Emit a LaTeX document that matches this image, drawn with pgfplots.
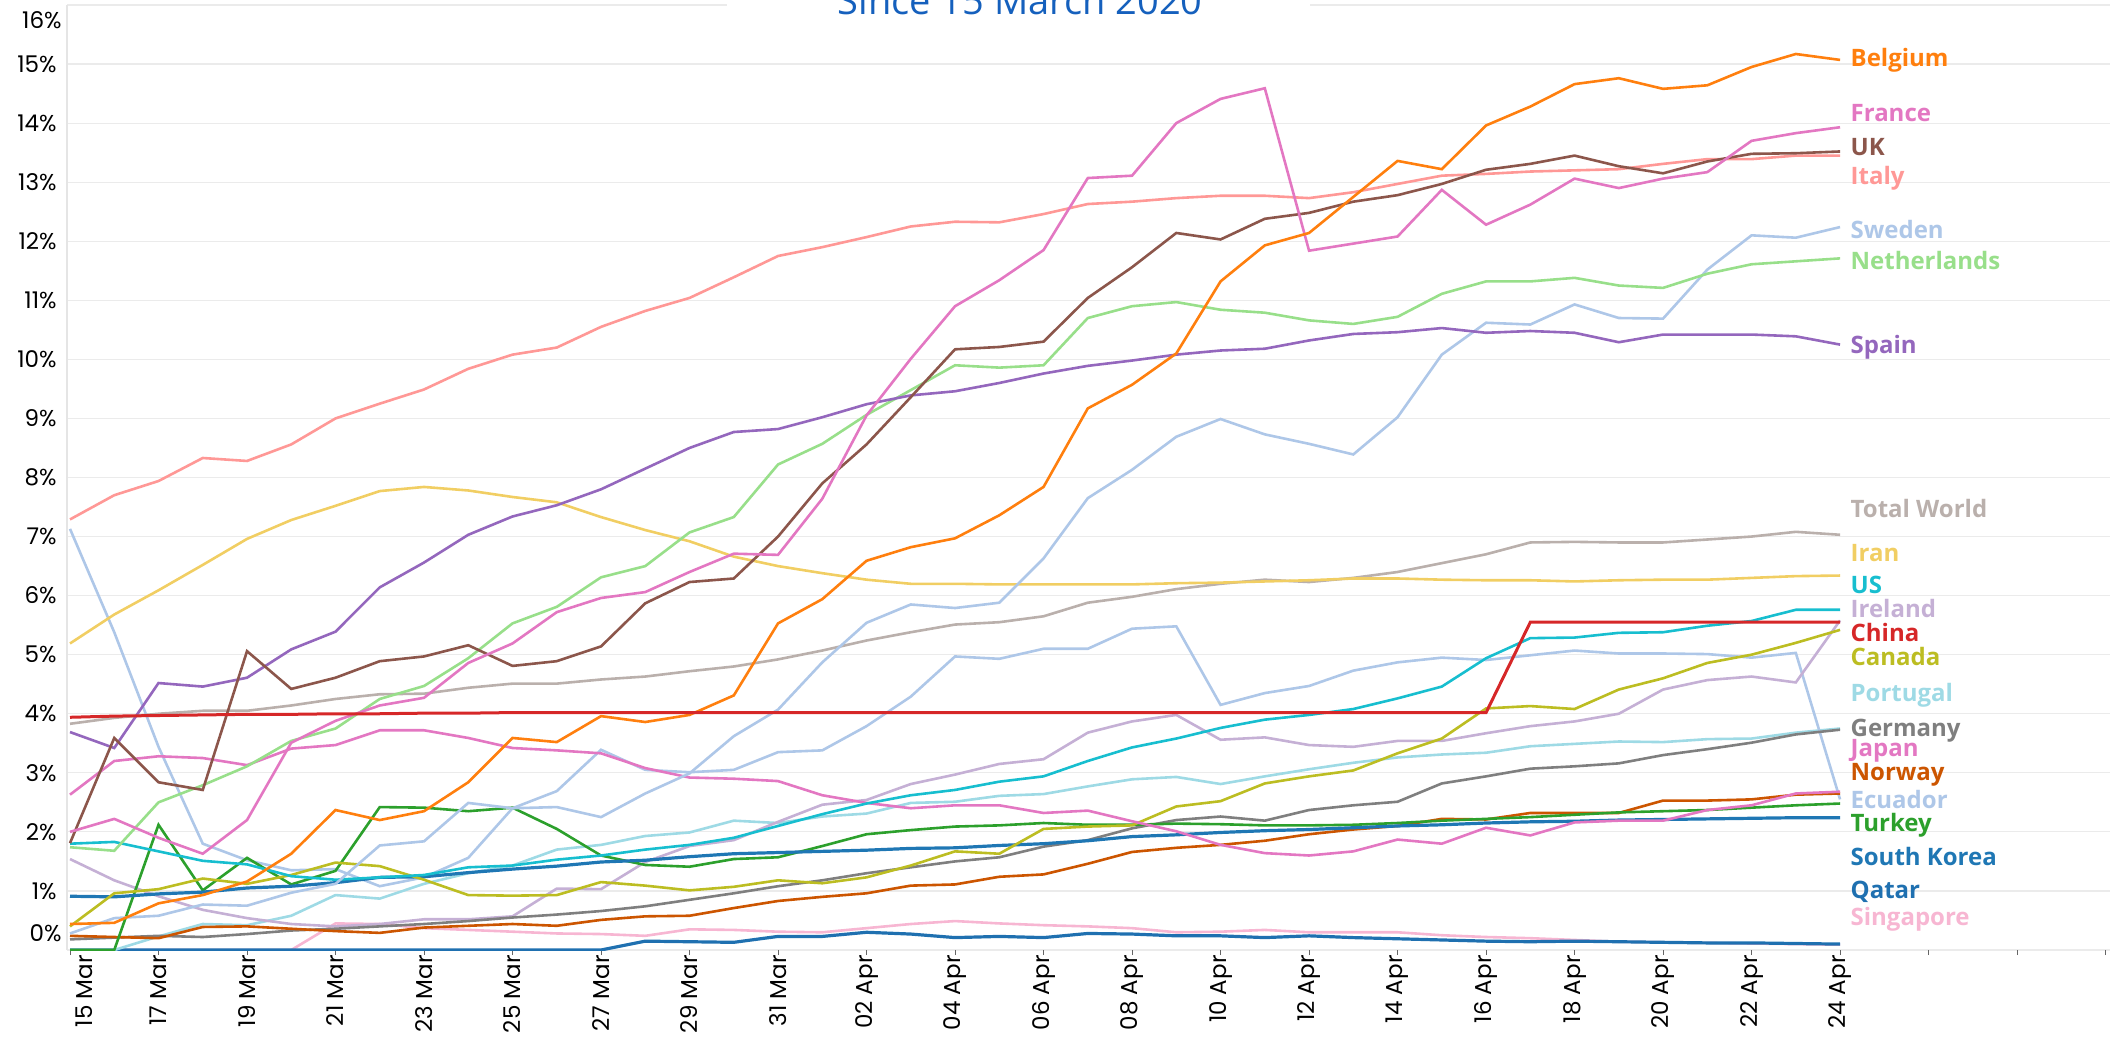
\documentclass[border=0pt]{standalone}
\usepackage{fontspec}
\usepackage{pgfplots}
\usepackage{pgfplotstable}
\pgfplotsset{compat=1.18}
\newfontfamily\tickfont{Poppins}
\newfontfamily\labfont{Open Sans}
\definecolor{cBE}{HTML}{FF7F0E}
\definecolor{cFR}{HTML}{E377C2}
\definecolor{cUK}{HTML}{8C564B}
\definecolor{cIT}{HTML}{FF9896}
\definecolor{cSE}{HTML}{AEC7E8}
\definecolor{cNL}{HTML}{98DF8A}
\definecolor{cES}{HTML}{9467BD}
\definecolor{cWO}{HTML}{BAB0AC}
\definecolor{cIR}{HTML}{F1CE63}
\definecolor{cUS}{HTML}{17BECF}
\definecolor{cIE}{HTML}{C5B0D5}
\definecolor{cCN}{HTML}{D62728}
\definecolor{cCA}{HTML}{BCBD22}
\definecolor{cPT}{HTML}{9EDAE5}
\definecolor{cDE}{HTML}{7F7F7F}
\definecolor{cJP}{HTML}{E377C2}
\definecolor{cNO}{HTML}{CC5500}
\definecolor{cEC}{HTML}{AEC7E8}
\definecolor{cTR}{HTML}{2CA02C}
\definecolor{cKR}{HTML}{1F77B4}
\definecolor{cQA}{HTML}{1F70B0}
\definecolor{cSG}{HTML}{F7B6D2}
\definecolor{titleblue}{HTML}{1560BD}
\tikzset{lab/.style={anchor=west, inner sep=0pt, font=\labfont\bfseries\fontsize{12}{14}\selectfont}}

\pgfplotstableread[row sep=\\]{v\\0.44\\0.46\\0.79\\0.93\\1.16\\1.63\\2.37\\2.20\\2.35\\2.84\\3.59\\3.52\\3.96\\3.86\\3.98\\4.31\\5.53\\5.94\\6.59\\6.82\\6.97\\7.36\\7.84\\9.17\\9.57\\10.10\\11.32\\11.93\\12.14\\12.75\\13.36\\13.22\\13.96\\14.28\\14.66\\14.76\\14.58\\14.64\\14.95\\15.17\\15.07\\}\tBE
\pgfplotstableread[row sep=\\]{v\\2.00\\2.22\\1.90\\1.63\\2.20\\3.51\\3.88\\4.14\\4.27\\4.86\\5.19\\5.72\\5.96\\6.06\\6.40\\6.71\\6.69\\7.64\\9.05\\10.01\\10.90\\11.34\\11.85\\13.07\\13.11\\14.00\\14.41\\14.59\\11.84\\11.96\\12.08\\12.87\\12.28\\12.62\\13.06\\12.90\\13.06\\13.17\\13.70\\13.83\\13.93\\}\tFR
\pgfplotstableread[row sep=\\]{v\\1.81\\3.59\\2.84\\2.71\\5.06\\4.42\\4.61\\4.89\\4.97\\5.16\\4.81\\4.89\\5.14\\5.87\\6.23\\6.29\\7.00\\7.90\\8.56\\9.36\\10.17\\10.21\\10.30\\11.04\\11.56\\12.14\\12.03\\12.38\\12.48\\12.67\\12.78\\12.97\\13.21\\13.31\\13.45\\13.27\\13.15\\13.35\\13.48\\13.49\\13.52\\}\tUK
\pgfplotstableread[row sep=\\]{v\\7.29\\7.70\\7.94\\8.33\\8.28\\8.56\\9.00\\9.25\\9.49\\9.84\\10.08\\10.20\\10.55\\10.82\\11.04\\11.39\\11.75\\11.90\\12.07\\12.25\\12.33\\12.32\\12.46\\12.63\\12.67\\12.73\\12.77\\12.77\\12.73\\12.83\\12.97\\13.11\\13.14\\13.18\\13.20\\13.22\\13.31\\13.39\\13.39\\13.45\\13.45\\}\tIT
\pgfplotstableread[row sep=\\]{v\\0.28\\0.54\\0.58\\0.77\\0.75\\0.97\\1.12\\1.77\\1.84\\2.49\\2.40\\2.42\\2.25\\2.65\\2.99\\3.62\\4.07\\4.87\\5.54\\5.85\\5.79\\5.88\\6.63\\7.65\\8.13\\8.69\\8.99\\8.73\\8.57\\8.39\\9.02\\10.08\\10.62\\10.59\\10.93\\10.70\\10.69\\11.52\\12.10\\12.06\\12.24\\}\tSE
\pgfplotstableread[row sep=\\]{v\\1.74\\1.68\\2.50\\2.79\\3.11\\3.54\\3.75\\4.25\\4.47\\4.94\\5.53\\5.81\\6.31\\6.50\\7.07\\7.33\\8.22\\8.57\\9.06\\9.48\\9.90\\9.86\\9.90\\10.70\\10.90\\10.97\\10.84\\10.79\\10.66\\10.60\\10.72\\11.11\\11.32\\11.32\\11.38\\11.25\\11.21\\11.45\\11.61\\11.66\\11.71\\}\tNL
\pgfplotstableread[row sep=\\]{v\\3.69\\3.42\\4.52\\4.46\\4.61\\5.09\\5.39\\6.14\\6.56\\7.03\\7.34\\7.53\\7.80\\8.15\\8.50\\8.77\\8.82\\9.02\\9.24\\9.39\\9.46\\9.60\\9.76\\9.89\\9.98\\10.08\\10.15\\10.18\\10.32\\10.43\\10.46\\10.53\\10.45\\10.48\\10.45\\10.29\\10.42\\10.42\\10.42\\10.39\\10.25\\}\tES
\pgfplotstableread[row sep=\\]{v\\3.83\\3.93\\4.00\\4.05\\4.05\\4.14\\4.25\\4.33\\4.34\\4.44\\4.51\\4.51\\4.58\\4.63\\4.72\\4.80\\4.92\\5.07\\5.24\\5.38\\5.51\\5.55\\5.65\\5.88\\5.98\\6.11\\6.20\\6.27\\6.23\\6.30\\6.40\\6.55\\6.70\\6.90\\6.91\\6.90\\6.90\\6.95\\7.00\\7.08\\7.03\\}\tWO
\pgfplotstableread[row sep=\\]{v\\5.19\\5.68\\6.09\\6.52\\6.96\\7.28\\7.52\\7.77\\7.84\\7.78\\7.67\\7.58\\7.33\\7.11\\6.92\\6.66\\6.50\\6.38\\6.27\\6.20\\6.20\\6.19\\6.19\\6.19\\6.19\\6.21\\6.22\\6.24\\6.26\\6.29\\6.29\\6.27\\6.26\\6.26\\6.24\\6.26\\6.27\\6.27\\6.30\\6.33\\6.34\\}\tIR
\pgfplotstableread[row sep=\\]{v\\1.80\\1.83\\1.67\\1.51\\1.45\\1.25\\1.19\\1.23\\1.27\\1.40\\1.43\\1.53\\1.60\\1.70\\1.78\\1.90\\2.10\\2.30\\2.48\\2.62\\2.71\\2.85\\2.94\\3.20\\3.43\\3.58\\3.76\\3.90\\3.98\\4.08\\4.26\\4.46\\4.94\\5.28\\5.29\\5.37\\5.38\\5.49\\5.57\\5.76\\5.76\\}\tUS
\pgfplotstableread[row sep=\\]{v\\1.54\\1.18\\0.91\\0.68\\0.54\\0.44\\0.40\\0.44\\0.52\\0.52\\0.57\\1.04\\1.03\\1.49\\1.76\\1.86\\2.17\\2.46\\2.54\\2.81\\2.97\\3.15\\3.23\\3.68\\3.87\\3.98\\3.56\\3.60\\3.47\\3.44\\3.54\\3.54\\3.67\\3.79\\3.87\\4.00\\4.41\\4.57\\4.63\\4.53\\5.58\\}\tIE
\pgfplotstableread[row sep=\\]{v\\3.94\\3.96\\3.97\\3.98\\3.99\\3.99\\4.00\\4.00\\4.01\\4.01\\4.02\\4.02\\4.02\\4.02\\4.02\\4.02\\4.02\\4.02\\4.02\\4.02\\4.02\\4.02\\4.02\\4.02\\4.02\\4.02\\4.02\\4.02\\4.02\\4.02\\4.02\\4.02\\4.02\\5.55\\5.55\\5.55\\5.55\\5.55\\5.55\\5.55\\5.55\\}\tCN
\pgfplotstableread[row sep=\\]{v\\0.40\\0.96\\1.03\\1.21\\1.12\\1.27\\1.48\\1.42\\1.19\\0.93\\0.92\\0.93\\1.15\\1.09\\1.01\\1.07\\1.18\\1.13\\1.23\\1.43\\1.67\\1.63\\2.05\\2.09\\2.11\\2.43\\2.52\\2.82\\2.94\\3.04\\3.33\\3.58\\4.09\\4.13\\4.08\\4.41\\4.60\\4.86\\5.00\\5.20\\5.42\\}\tCA
\pgfplotstableread[row sep=\\]{v\\0.00\\0.00\\0.23\\0.44\\0.42\\0.58\\0.93\\0.87\\1.12\\1.30\\1.43\\1.70\\1.78\\1.93\\1.99\\2.19\\2.15\\2.26\\2.31\\2.49\\2.51\\2.61\\2.64\\2.77\\2.89\\2.93\\2.81\\2.94\\3.06\\3.17\\3.26\\3.31\\3.34\\3.45\\3.49\\3.53\\3.52\\3.57\\3.58\\3.68\\3.75\\}\tPT
\pgfplotstableread[row sep=\\]{v\\0.18\\0.21\\0.24\\0.22\\0.27\\0.33\\0.36\\0.40\\0.44\\0.49\\0.55\\0.60\\0.66\\0.74\\0.85\\0.96\\1.08\\1.18\\1.30\\1.40\\1.50\\1.57\\1.75\\1.86\\2.06\\2.20\\2.26\\2.19\\2.37\\2.45\\2.51\\2.82\\2.94\\3.07\\3.11\\3.16\\3.30\\3.40\\3.51\\3.65\\3.73\\}\tDE
\pgfplotstableread[row sep=\\]{v\\2.63\\3.20\\3.28\\3.25\\3.13\\3.41\\3.47\\3.72\\3.72\\3.59\\3.42\\3.38\\3.33\\3.08\\2.92\\2.90\\2.86\\2.62\\2.49\\2.40\\2.45\\2.45\\2.32\\2.36\\2.18\\2.01\\1.78\\1.64\\1.60\\1.67\\1.87\\1.80\\2.07\\1.94\\2.16\\2.19\\2.19\\2.37\\2.45\\2.65\\2.68\\}\tJP
\pgfplotstableread[row sep=\\]{v\\0.24\\0.22\\0.20\\0.39\\0.40\\0.36\\0.32\\0.29\\0.38\\0.41\\0.44\\0.41\\0.51\\0.57\\0.58\\0.71\\0.83\\0.90\\0.96\\1.09\\1.11\\1.24\\1.28\\1.46\\1.66\\1.73\\1.78\\1.85\\1.96\\2.04\\2.10\\2.22\\2.21\\2.32\\2.32\\2.32\\2.53\\2.53\\2.55\\2.63\\2.65\\}\tNO
\pgfplotstableread[row sep=\\]{v\\7.13\\5.38\\3.44\\1.80\\1.52\\1.35\\1.37\\1.08\\1.23\\1.56\\2.40\\2.69\\3.39\\3.05\\3.01\\3.05\\3.35\\3.38\\3.79\\4.29\\4.97\\4.93\\5.10\\5.10\\5.44\\5.48\\4.15\\4.35\\4.47\\4.73\\4.87\\4.95\\4.91\\4.99\\5.07\\5.02\\5.02\\5.01\\4.95\\5.03\\2.55\\}\tEC
\pgfplotstableread[row sep=\\]{v\\0.00\\0.00\\2.12\\1.01\\1.56\\1.11\\1.34\\2.42\\2.41\\2.35\\2.41\\2.05\\1.60\\1.44\\1.41\\1.54\\1.57\\1.76\\1.96\\2.03\\2.09\\2.11\\2.15\\2.12\\2.12\\2.14\\2.13\\2.11\\2.11\\2.12\\2.15\\2.19\\2.22\\2.25\\2.29\\2.33\\2.35\\2.37\\2.41\\2.45\\2.48\\}\tTR
\pgfplotstableread[row sep=\\]{v\\0.91\\0.90\\0.95\\0.98\\1.05\\1.08\\1.14\\1.23\\1.24\\1.31\\1.37\\1.42\\1.49\\1.52\\1.58\\1.63\\1.65\\1.67\\1.69\\1.72\\1.73\\1.77\\1.80\\1.85\\1.92\\1.95\\1.99\\2.02\\2.04\\2.07\\2.10\\2.12\\2.15\\2.17\\2.18\\2.20\\2.21\\2.22\\2.23\\2.24\\2.24\\}\tKR
\pgfplotstableread[row sep=\\]{v\\0\\0\\0\\0\\0\\0\\0\\0\\0\\0\\0\\0\\0\\0.15\\0.14\\0.13\\0.23\\0.23\\0.30\\0.27\\0.21\\0.23\\0.21\\0.28\\0.27\\0.24\\0.24\\0.21\\0.24\\0.21\\0.19\\0.17\\0.15\\0.14\\0.15\\0.14\\0.13\\0.12\\0.12\\0.11\\0.10\\}\tQA
\pgfplotstableread[row sep=\\]{v\\0\\0\\0\\0\\0\\0\\0.45\\0.44\\0.37\\0.34\\0.31\\0.28\\0.27\\0.24\\0.35\\0.34\\0.31\\0.30\\0.37\\0.44\\0.49\\0.45\\0.42\\0.40\\0.37\\0.30\\0.31\\0.34\\0.30\\0.30\\0.30\\0.25\\0.22\\0.20\\0.17\\0.14\\0.13\\0.12\\0.11\\0.10\\0.09\\}\tSG

\begin{document}
\begin{tikzpicture}
\begin{axis}[
  name=ax,
  scale only axis,
  width=1021.5pt, height=472.5pt,
  xmin=-0.068, xmax=46.1, ymin=0, ymax=16,
  clip mode=individual,
  axis line style={draw=none},
  ymajorgrids,
  grid style={draw=black!8, line width=0.6pt},
  ytick={0,1,...,16},
  yticklabels={,1\%,2\%,3\%,4\%,5\%,6\%,7\%,8\%,9\%,10\%,11\%,12\%,13\%,14\%,15\%,},
  yticklabel style={font=\tickfont\fontsize{11.5}{12}\selectfont, anchor=east, inner sep=0pt, xshift=-2.5pt},
  ytick style={draw=none},
  ytick pos=left,
  xtick={0,2,...,46},
  xticklabels={\raisebox{-7pt}[\height][\depth]{15 Mar},17 Mar,19 Mar,21 Mar,23 Mar,25 Mar,27 Mar,29 Mar,31 Mar,02 Apr,04 Apr,06 Apr,08 Apr,10 Apr,12 Apr,14 Apr,16 Apr,18 Apr,20 Apr,22 Apr,24 Apr,,,},
  xticklabel style={font=\tickfont\fontsize{11.5}{12}\selectfont, rotate=90, anchor=east, inner sep=0pt},
  xtick pos=lower,
  tick align=outside,
  major tick length=2.5pt,
  xtick style={draw=black!60, line width=0.5pt},
  every axis plot/.append style={line width=1.3pt, mark=none},
]
\addplot[cSG] table[x expr=\coordindex, y=v] {\tSG};
\addplot[cQA, line width=1.6pt] table[x expr=\coordindex, y=v] {\tQA};
\addplot[cPT] table[x expr=\coordindex, y=v] {\tPT};
\addplot[cEC] table[x expr=\coordindex, y=v] {\tEC};
\addplot[cIE] table[x expr=\coordindex, y=v] {\tIE};
\addplot[cDE] table[x expr=\coordindex, y=v] {\tDE};
\addplot[cNO] table[x expr=\coordindex, y=v] {\tNO};
\addplot[cTR] table[x expr=\coordindex, y=v] {\tTR};
\addplot[cKR, line width=1.6pt] table[x expr=\coordindex, y=v] {\tKR};
\addplot[cCA] table[x expr=\coordindex, y=v] {\tCA};
\addplot[cJP] table[x expr=\coordindex, y=v] {\tJP};
\addplot[cUS] table[x expr=\coordindex, y=v] {\tUS};
\addplot[cWO] table[x expr=\coordindex, y=v] {\tWO};
\addplot[cIR] table[x expr=\coordindex, y=v] {\tIR};
\addplot[cSE] table[x expr=\coordindex, y=v] {\tSE};
\addplot[cNL] table[x expr=\coordindex, y=v] {\tNL};
\addplot[cES] table[x expr=\coordindex, y=v] {\tES};
\addplot[cIT] table[x expr=\coordindex, y=v] {\tIT};
\addplot[cUK] table[x expr=\coordindex, y=v] {\tUK};
\addplot[cFR] table[x expr=\coordindex, y=v] {\tFR};
\addplot[cBE] table[x expr=\coordindex, y=v] {\tBE};
\addplot[cCN, line width=1.5pt] table[x expr=\coordindex, y=v] {\tCN};

\draw[black!10, line width=0.6pt] (rel axis cs:0,0) -- (rel axis cs:0,1);
\node[anchor=east, inner sep=0pt, font=\tickfont\fontsize{11.5}{12}\selectfont] at ([xshift=-2.5pt]axis cs:-0.068,0.29) {0\%};
\node[anchor=east, inner sep=0pt, font=\tickfont\fontsize{11.5}{12}\selectfont] at ([xshift=-2.5pt]axis cs:-0.068,15.74) {16\%};

\fill[white] (axis cs:14.85,15.7) rectangle (axis cs:28.02,16.6);
\node[anchor=base, inner sep=0pt, text=titleblue, font=\labfont\fontsize{19}{20}\selectfont] at ([yshift=-5pt]axis cs:21.47,16) {Since 15 March 2020};

\node[lab, text=cBE] at (axis cs:40.23,15.06) {Belgium};
\node[lab, text=cFR] at (axis cs:40.23,14.17) {France};
\node[lab, text=cUK] at (axis cs:40.23,13.60) {UK};
\node[lab, text=cIT] at (axis cs:40.23,13.06) {Italy};
\node[lab, text=cSE] at (axis cs:40.23,12.20) {Sweden};
\node[lab, text=cNL] at (axis cs:40.23,11.67) {Netherlands};
\node[lab, text=cES] at (axis cs:40.23,10.20) {Spain};
\node[lab, text=cWO] at (axis cs:40.23,7.48) {Total World};
\node[lab, text=cIR] at (axis cs:40.23,6.72) {Iran};
\node[lab, text=cUS] at (axis cs:40.23,6.18) {US};
\node[lab, text=cIE] at (axis cs:40.23,5.79) {Ireland};
\node[lab, text=cCN] at (axis cs:40.23,5.38) {China};
\node[lab, text=cCA] at (axis cs:40.23,4.97) {Canada};
\node[lab, text=cPT] at (axis cs:40.23,4.31) {Portugal};
\node[lab, text=cDE] at (axis cs:40.23,3.72) {Germany};
\node[lab, text=cJP] at (axis cs:40.23,3.37) {Japan};
\node[lab, text=cNO] at (axis cs:40.23,2.96) {Norway};
\node[lab, text=cEC] at (axis cs:40.23,2.54) {Ecuador};
\node[lab, text=cTR] at (axis cs:40.23,2.11) {Turkey};
\node[lab, text=cKR] at (axis cs:40.23,1.59) {South Korea};
\node[lab, text=cQA] at (axis cs:40.23,0.98) {Qatar};
\node[lab, text=cSG] at (axis cs:40.23,0.52) {Singapore};
\end{axis}
\pgfresetboundingbox
\path[use as bounding box] ([shift={(-33.5pt,-43pt)}]ax.south west) rectangle ([shift={(0pt,2.5pt)}]ax.north east);
\end{tikzpicture}
\end{document}
